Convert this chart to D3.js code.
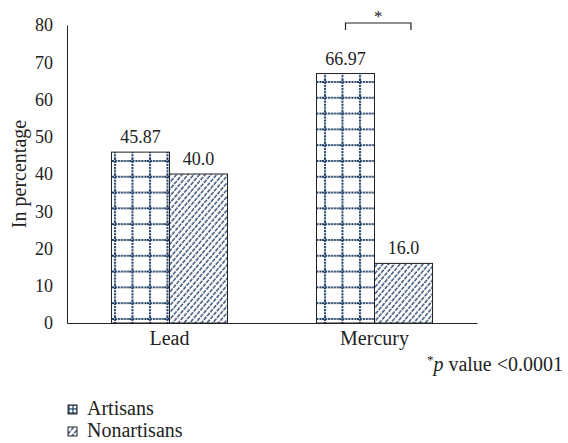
<!DOCTYPE html>
<html><head><meta charset="utf-8">
<script src="https://cdn.jsdelivr.net/npm/d3@7"></script>
<style>body{margin:0;background:#fff}svg{display:block}svg text{font-family:"Liberation Serif","Times New Roman",serif !important;fill:#222}</style>
</head><body>
<svg id="c" width="568" height="443"></svg>
<script>
const categories = ["Lead", "Mercury"];
const seriesNames = ["Artisans", "Nonartisans"];
const artisans = [45.87, 66.97];
const nonartisans = [40.0, 16.0];
const valueLabels = [["45.87", "66.97"], ["40.0", "16.0"]];
const yTicks = [0, 10, 20, 30, 40, 50, 60, 70, 80];

const NUM = 18, WORD = 20;
const svg = d3.select("#c");
const navy = "#1d3c66";
const defs = svg.append("defs");
// grid pattern
const pg = defs.append("pattern").attr("id","grid").attr("patternUnits","userSpaceOnUse")
  .attr("width",17.5).attr("height",15.8).attr("x",112).attr("y",0);
pg.append("rect").attr("width",17.5).attr("height",15.8).attr("fill","#fff");
pg.append("line").attr("x1",3).attr("x2",3).attr("y1",0).attr("y2",15.8)
  .attr("stroke",navy).attr("stroke-width",2).attr("stroke-dasharray","2,1");
pg.append("line").attr("x1",0).attr("x2",17.5).attr("y1",3).attr("y2",3)
  .attr("stroke",navy).attr("stroke-width",2).attr("stroke-dasharray","2,1");
// hatch pattern
const ph = defs.append("pattern").attr("id","hatch").attr("patternUnits","userSpaceOnUse")
  .attr("width",4.4).attr("height",10).attr("patternTransform","rotate(40)");
ph.append("rect").attr("width",4.4).attr("height",10).attr("fill","#fff");
ph.append("line").attr("x1",1).attr("x2",1).attr("y1",0).attr("y2",10)
  .attr("stroke",navy).attr("stroke-width",1.3).attr("stroke-dasharray","4,1");
// small legend patterns
const pgs = defs.append("pattern").attr("id","gridS").attr("patternUnits","userSpaceOnUse")
  .attr("width",4).attr("height",4);
pgs.append("rect").attr("width",4).attr("height",4).attr("fill","#fff");
pgs.append("line").attr("x1",1).attr("x2",1).attr("y1",0).attr("y2",4).attr("stroke",navy).attr("stroke-width",1.2);
pgs.append("line").attr("x1",0).attr("x2",4).attr("y1",1).attr("y2",1).attr("stroke",navy).attr("stroke-width",1.2);

const x = d3.scaleBand().domain(categories).range([67, 477]).padding(0);
const y = d3.scaleLinear().domain([0, 80]).range([323, 25]);
const barW = 58;
const fills = ["url(#grid)", "url(#hatch)"];
const data = [artisans, nonartisans];

// bars
data.forEach((vals, s) => {
  svg.append("g").selectAll("rect").data(categories).join("rect")
    .attr("x", c => x(c) + x.bandwidth()/2 - barW + s*barW)
    .attr("y", (c,i) => y(vals[i]))
    .attr("width", barW)
    .attr("height", (c,i) => y(0) - y(vals[i]))
    .attr("fill", fills[s]).attr("stroke", "#222").attr("stroke-width", 1);
  svg.append("g").selectAll("text").data(categories).join("text")
    .attr("x", c => x(c) + x.bandwidth()/2 - barW/2 + s*barW)
    .attr("y", (c,i) => y(vals[i]) - 9)
    .attr("text-anchor","middle").attr("font-size",NUM)
    .text((c,i) => valueLabels[s][i]);
});

// axes
const yAxis = d3.axisLeft(y).tickValues(yTicks).tickSize(0).tickPadding(14);
const gy = svg.append("g").attr("transform","translate(67,0)").call(yAxis);
gy.attr("font-family",null).attr("font-size",null);
gy.select(".domain").attr("stroke","#222");
gy.selectAll("text").attr("font-size",NUM).attr("fill","#222");
const xAxis = d3.axisBottom(x).tickSize(0);
const gx = svg.append("g").attr("transform","translate(0,323)").call(xAxis);
gx.attr("font-family",null).attr("font-size",null);
gx.select(".domain").attr("stroke","#222");
gx.selectAll("text").attr("font-size",WORD).attr("fill","#222").attr("y",22).attr("dy",0);

svg.append("text").attr("transform","translate(26,174) rotate(-90)")
  .attr("text-anchor","middle").attr("font-size",WORD).text("In percentage");

// significance bracket
const bx1 = x("Mercury") + x.bandwidth()/2 - barW/2;
const bx2 = 411;
svg.append("path").attr("d",`M${bx1},30V23H${bx2}V30`).attr("fill","none").attr("stroke","#222").attr("stroke-width",1.2);
svg.append("text").attr("x",(bx1+bx2)/2).attr("y",22).attr("text-anchor","middle").attr("font-size",17).text("*");

// footnote
const fn = svg.append("text").attr("x",563).attr("y",371).attr("text-anchor","end").attr("font-size",WORD);
fn.append("tspan").attr("font-size",13).attr("dy",-7).text("*");
fn.append("tspan").attr("font-style","italic").attr("dy",7).text("p");
fn.append("tspan").text(" value <0.0001");

// legend
const leg = svg.append("g");
seriesNames.forEach((n, i) => {
  const yy = 405 + i*22;
  leg.append("rect").attr("x",68).attr("y",yy).attr("width",9).attr("height",9)
    .attr("fill", i===0 ? "url(#gridS)" : "url(#hatch)").attr("stroke","#222").attr("stroke-width",1);
  leg.append("text").attr("x",87).attr("y",yy+10).attr("font-size",WORD).text(n);
});
</script>
</body></html>
